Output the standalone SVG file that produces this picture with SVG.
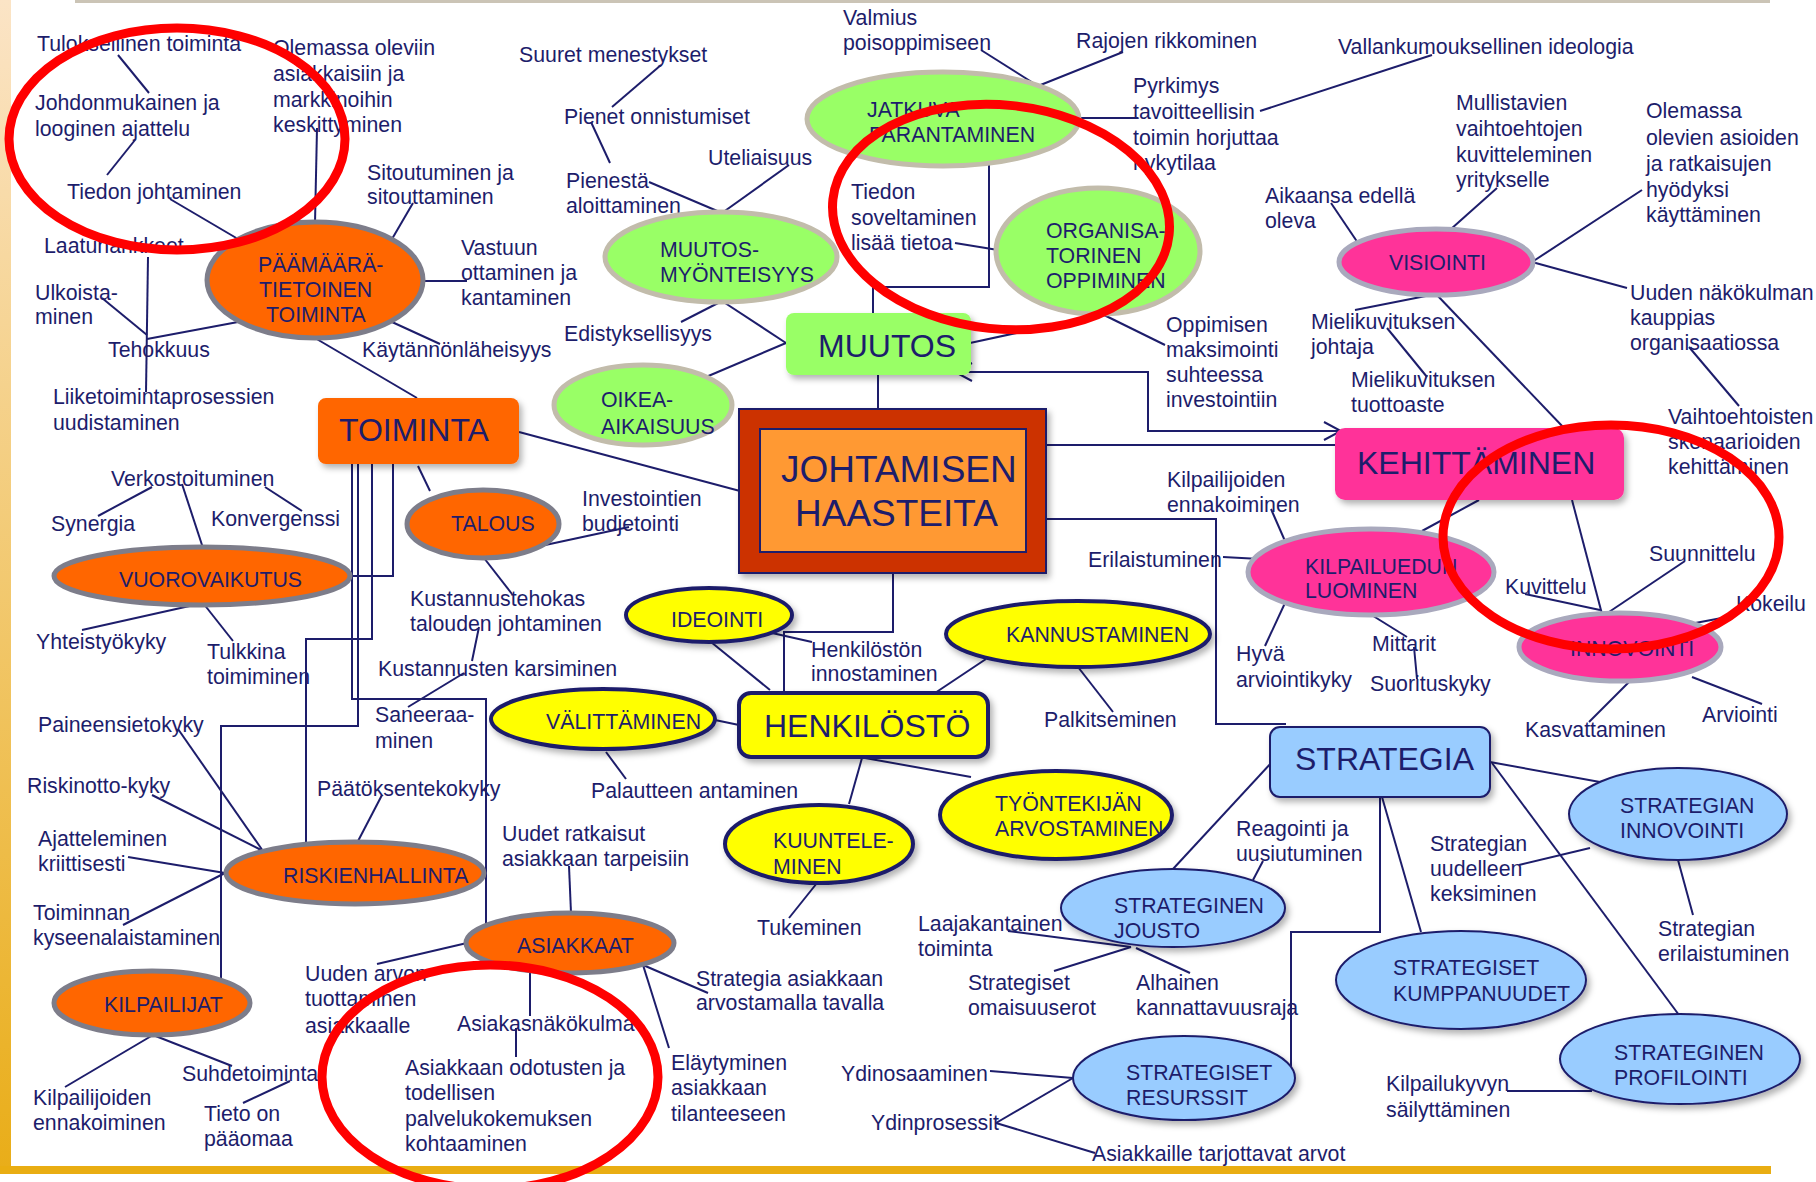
<svg xmlns="http://www.w3.org/2000/svg" width="1816" height="1182" viewBox="0 0 1816 1182">
<defs>
<linearGradient id="side" x1="0" y1="0" x2="0" y2="1"><stop offset="0" stop-color="#fbe4c6"/><stop offset="1" stop-color="#e9ad18"/></linearGradient>
<filter id="sh" x="-20%" y="-20%" width="140%" height="150%"><feDropShadow dx="3" dy="4" stdDeviation="3" flood-color="#000" flood-opacity="0.3"/></filter>
<marker id="chev" markerUnits="userSpaceOnUse" markerWidth="20" markerHeight="22" refX="18" refY="10" orient="auto-start-reverse"><path d="M1,1 L18,10 L1,19" fill="none" stroke="#1d1d6b" stroke-width="2"/></marker>
<style>
.t{font-family:"Liberation Sans",Arial,sans-serif;font-size:21.3px;fill:#1d1d6b}
.b{font-size:32px}
.h{font-size:37px}
.ln{stroke:#1d1d6b;stroke-width:2;fill:none}
.or{fill:#ff6600;stroke:#7d7d8a;stroke-width:5}
.gr{fill:#99ff66;stroke:#c2bcab;stroke-width:5}
.pk{fill:#ff3399;stroke:#a9a9bd;stroke-width:5}
.ye{fill:#ffff00;stroke:#1d1d6b;stroke-width:4}
.bl{fill:#99ccff;stroke:#1d1d6b;stroke-width:2}
.red{fill:none;stroke:#ff0000;stroke-width:9}
</style>
</defs>
<rect width="1816" height="1182" fill="#ffffff"/>
<rect x="0" y="0" width="11" height="1174" fill="url(#side)"/>
<rect x="0" y="1166" width="1771" height="8" fill="#e9ad12"/>
<line x1="75" y1="1.5" x2="1770" y2="1.5" stroke="#cbc4b6" stroke-width="3"/>

<g id="connectors" class="ln">
<path d="M118,55 L149,93"/>
<path d="M135,140 L107,175"/>
<path d="M170,199 L238,239"/>
<path d="M317,128 L315,223"/>
<path d="M413,203 L392,239"/>
<path d="M148,257 L146,392"/>
<path d="M102,298 L147,335"/>
<path d="M147,339 L238,322"/>
<path d="M423,281 L467,281"/>
<path d="M392,322 L440,344"/>
<path d="M315,338 L417,398"/>
<path d="M661,65 L612,107"/>
<path d="M591,122 L610,163"/>
<path d="M649,182 L722,213"/>
<path d="M789,165 L722,213"/>
<path d="M722,301 L681,322"/>
<path d="M722,301 L786,343"/>
<path d="M786,343 L706,377"/>
<path d="M878,375 L878,409"/>
<path d="M981,50 L1038,86"/>
<path d="M1123,52 L1038,86"/>
<path d="M1080,118 L1138,118"/>
<path d="M1260,111 L1432,55"/>
<path d="M946,165 V162 H989 V287 H873 V313"/>
<path d="M955,243 L998,250"/>
<path d="M1100,313 L1165,345"/>
<path d="M970,343 L1104,314"/>
<path d="M955,372 H1148 V431 H1341" marker-start="url(#chev)" marker-end="url(#chev)"/>
<path d="M1046,445 H1335"/>
<path d="M1497,188 L1451,229"/>
<path d="M1642,190 L1532,262"/>
<path d="M1532,262 L1627,288"/>
<path d="M1689,347 L1739,406"/>
<path d="M1331,203 L1358,243"/>
<path d="M1436,294 L1355,310"/>
<path d="M1387,328 L1427,377"/>
<path d="M1436,294 L1564,428"/>
<path d="M1479,500 L1422,531"/>
<path d="M1572,500 L1602,614"/>
<path d="M1525,594 L1600,610"/>
<path d="M1685,561 L1609,612"/>
<path d="M1690,624 L1727,617"/>
<path d="M1630,681 L1589,722"/>
<path d="M1692,677 L1762,704"/>
<path d="M1370,614 L1407,637"/>
<path d="M1414,647 L1417,679"/>
<path d="M1271,509 L1285,541"/>
<path d="M1223,557 L1260,559"/>
<path d="M1285,603 L1265,646"/>
<path d="M1046,519 H1216 V724 H1286"/>
<path d="M519,432 L740,491"/>
<path d="M418,466 L430,491"/>
<path d="M536,547 L629,527"/>
<path d="M484,558 L512,594"/>
<path d="M479,627 L472,661"/>
<path d="M464,673 L408,707"/>
<path d="M393,464 V576 H350"/>
<path d="M372,464 V639 H306 V844"/>
<path d="M358,464 V726 H221 V980"/>
<path d="M352,464 V699 H486 V926"/>
<path d="M152,487 L98,516"/>
<path d="M265,487 L302,511"/>
<path d="M182,484 L203,548"/>
<path d="M203,603 L82,630"/>
<path d="M203,603 L233,641"/>
<path d="M178,729 L263,851"/>
<path d="M152,795 L263,851"/>
<path d="M128,857 L225,873"/>
<path d="M123,925 L225,873"/>
<path d="M357,843 L382,795"/>
<path d="M153,1035 L65,1087"/>
<path d="M153,1035 L232,1066"/>
<path d="M290,1081 L243,1103"/>
<path d="M377,964 L467,943"/>
<path d="M569,866 L571,913"/>
<path d="M530,971 L530,1016"/>
<path d="M516,1028 L516,1057"/>
<path d="M643,965 L708,993"/>
<path d="M643,965 L669,1048"/>
<path d="M711,642 L770,690"/>
<path d="M772,633 L812,642"/>
<path d="M893,573 V632 H784 V693"/>
<path d="M715,720 L739,725"/>
<path d="M606,752 L626,779"/>
<path d="M986,659 L935,693"/>
<path d="M1078,667 L1113,712"/>
<path d="M865,758 L971,777"/>
<path d="M862,758 L849,804"/>
<path d="M817,883 L789,918"/>
<path d="M1272,762 L1173,869"/>
<path d="M1263,861 L1253,880"/>
<path d="M1008,931 L1131,947"/>
<path d="M1131,947 L1054,971"/>
<path d="M1136,948 L1190,973"/>
<path d="M1291,1066 V932 H1380 V797"/>
<path d="M990,1071 L1073,1078"/>
<path d="M1073,1078 L996,1123"/>
<path d="M996,1123 L1095,1153"/>
<path d="M1382,797 L1421,932"/>
<path d="M1492,763 L1679,1015"/>
<path d="M1490,762 L1600,782"/>
<path d="M1519,865 L1590,848"/>
<path d="M1678,860 L1693,915"/>
<path d="M1507,1091 L1592,1091"/>
</g>

<g id="labels" class="t">
<text x="37" y="51">Tuloksellinen toiminta</text>
<text x="35" y="110">Johdonmukainen ja</text>
<text x="35" y="136">looginen ajattelu</text>
<text x="67" y="199">Tiedon johtaminen</text>
<text x="273" y="55">Olemassa oleviin</text>
<text x="273" y="81">asiakkaisiin ja</text>
<text x="273" y="107">markkinoihin</text>
<text x="273" y="132">keskittyminen</text>
<text x="367" y="180">Sitoutuminen ja</text>
<text x="367" y="204">sitouttaminen</text>
<text x="44" y="253">Laatuhankkeet</text>
<text x="35" y="300">Ulkoista-</text>
<text x="35" y="324">minen</text>
<text x="108" y="357">Tehokkuus</text>
<text x="461" y="255">Vastuun</text>
<text x="461" y="280">ottaminen ja</text>
<text x="461" y="305">kantaminen</text>
<text x="362" y="357">Käytännönläheisyys</text>
<text x="53" y="404">Liiketoimintaprosessien</text>
<text x="53" y="430">uudistaminen</text>
<text x="519" y="62">Suuret menestykset</text>
<text x="564" y="124">Pienet onnistumiset</text>
<text x="708" y="165">Uteliaisuus</text>
<text x="566" y="188">Pienestä</text>
<text x="566" y="213">aloittaminen</text>
<text x="564" y="341">Edistyksellisyys</text>
<text x="843" y="25">Valmius</text>
<text x="843" y="50">poisoppimiseen</text>
<text x="1076" y="48">Rajojen rikkominen</text>
<text x="1338" y="54">Vallankumouksellinen ideologia</text>
<text x="1133" y="93">Pyrkimys</text>
<text x="1133" y="119">tavoitteellisin</text>
<text x="1133" y="145">toimin horjuttaa</text>
<text x="1133" y="170">nykytilaa</text>
<text x="851" y="199">Tiedon</text>
<text x="851" y="225">soveltaminen</text>
<text x="851" y="250">lisää tietoa</text>
<text x="1456" y="110">Mullistavien</text>
<text x="1456" y="136">vaihtoehtojen</text>
<text x="1456" y="162">kuvitteleminen</text>
<text x="1456" y="187">yritykselle</text>
<text x="1646" y="118">Olemassa</text>
<text x="1646" y="145">olevien asioiden</text>
<text x="1646" y="171">ja ratkaisujen</text>
<text x="1646" y="197">hyödyksi</text>
<text x="1646" y="222">käyttäminen</text>
<text x="1265" y="203">Aikaansa edellä</text>
<text x="1265" y="228">oleva</text>
<text x="1630" y="300">Uuden näkökulman</text>
<text x="1630" y="325">kauppias</text>
<text x="1630" y="350">organisaatiossa</text>
<text x="1166" y="332">Oppimisen</text>
<text x="1166" y="357">maksimointi</text>
<text x="1166" y="382">suhteessa</text>
<text x="1166" y="407">investointiin</text>
<text x="1311" y="329">Mielikuvituksen</text>
<text x="1311" y="354">johtaja</text>
<text x="1351" y="387">Mielikuvituksen</text>
<text x="1351" y="412">tuottoaste</text>
<text x="1668" y="424">Vaihtoehtoisten</text>
<text x="1668" y="449">skenaarioiden</text>
<text x="1668" y="474">kehittäminen</text>
<text x="1167" y="487">Kilpailijoiden</text>
<text x="1167" y="512">ennakoiminen</text>
<text x="1088" y="567">Erilaistuminen</text>
<text x="1236" y="661">Hyvä</text>
<text x="1236" y="687">arviointikyky</text>
<text x="1372" y="651">Mittarit</text>
<text x="1370" y="691">Suorituskyky</text>
<text x="1505" y="594">Kuvittelu</text>
<text x="1649" y="561">Suunnittelu</text>
<text x="1736" y="611">Kokeilu</text>
<text x="1525" y="737">Kasvattaminen</text>
<text x="1702" y="722">Arviointi</text>
<text x="582" y="506">Investointien</text>
<text x="582" y="531">budjetointi</text>
<text x="410" y="606">Kustannustehokas</text>
<text x="410" y="631">talouden johtaminen</text>
<text x="378" y="676">Kustannusten karsiminen</text>
<text x="375" y="722">Saneeraa-</text>
<text x="375" y="748">minen</text>
<text x="111" y="486">Verkostoituminen</text>
<text x="51" y="531">Synergia</text>
<text x="211" y="526">Konvergenssi</text>
<text x="36" y="649">Yhteistyökyky</text>
<text x="207" y="659">Tulkkina</text>
<text x="207" y="684">toimiminen</text>
<text x="38" y="732">Paineensietokyky</text>
<text x="27" y="793">Riskinotto-kyky</text>
<text x="317" y="796">Päätöksentekokyky</text>
<text x="38" y="846">Ajatteleminen</text>
<text x="38" y="871">kriittisesti</text>
<text x="33" y="920">Toiminnan</text>
<text x="33" y="945">kyseenalaistaminen</text>
<text x="33" y="1105">Kilpailijoiden</text>
<text x="33" y="1130">ennakoiminen</text>
<text x="182" y="1081">Suhdetoiminta</text>
<text x="204" y="1121">Tieto on</text>
<text x="204" y="1146">pääomaa</text>
<text x="305" y="981">Uuden arvon</text>
<text x="305" y="1006">tuottaminen</text>
<text x="305" y="1033">asiakkaalle</text>
<text x="502" y="841">Uudet ratkaisut</text>
<text x="502" y="866">asiakkaan tarpeisiin</text>
<text x="457" y="1031">Asiakasnäkökulma</text>
<text x="405" y="1075">Asiakkaan odotusten ja</text>
<text x="405" y="1100">todellisen</text>
<text x="405" y="1126">palvelukokemuksen</text>
<text x="405" y="1151">kohtaaminen</text>
<text x="696" y="986">Strategia asiakkaan</text>
<text x="696" y="1010">arvostamalla tavalla</text>
<text x="671" y="1070">Eläytyminen</text>
<text x="671" y="1095">asiakkaan</text>
<text x="671" y="1121">tilanteeseen</text>
<text x="811" y="657">Henkilöstön</text>
<text x="811" y="681">innostaminen</text>
<text x="1044" y="727">Palkitseminen</text>
<text x="591" y="798">Palautteen antaminen</text>
<text x="757" y="935">Tukeminen</text>
<text x="1236" y="836">Reagointi ja</text>
<text x="1236" y="861">uusiutuminen</text>
<text x="918" y="931">Laajakantainen</text>
<text x="918" y="956">toiminta</text>
<text x="968" y="990">Strategiset</text>
<text x="968" y="1015">omaisuuserot</text>
<text x="1136" y="990">Alhainen</text>
<text x="1136" y="1015">kannattavuusraja</text>
<text x="841" y="1081">Ydinosaaminen</text>
<text x="871" y="1130">Ydinprosessit</text>
<text x="1092" y="1161">Asiakkaille tarjottavat arvot</text>
<text x="1430" y="851">Strategian</text>
<text x="1430" y="876">uudelleen</text>
<text x="1430" y="901">keksiminen</text>
<text x="1658" y="936">Strategian</text>
<text x="1658" y="961">erilaistuminen</text>
<text x="1386" y="1091">Kilpailukyvyn</text>
<text x="1386" y="1117">säilyttäminen</text>
</g>

<g id="paamaara"><ellipse class="or" cx="315" cy="280" rx="108" ry="58"/><text class="t" x="258" y="272">PÄÄMÄÄRÄ-</text><text class="t" x="259" y="297">TIETOINEN</text><text class="t" x="266" y="322">TOIMINTA</text></g>
<g id="muutosmyonteisyys"><ellipse class="gr" cx="721" cy="257" rx="116" ry="45"/><text class="t" x="660" y="257">MUUTOS-</text><text class="t" x="660" y="282">MYÖNTEISYYS</text></g>
<g id="jatkuva"><ellipse class="gr" cx="943" cy="119" rx="136" ry="47"/><text class="t" x="867" y="117">JATKUVA</text><text class="t" x="869" y="142">PARANTAMINEN</text></g>
<g id="organisatorinen"><ellipse class="gr" cx="1098" cy="251" rx="102" ry="63"/><text class="t" x="1046" y="238">ORGANISA-</text><text class="t" x="1046" y="263">TORINEN</text><text class="t" x="1046" y="288">OPPIMINEN</text></g>
<g id="oikea"><ellipse class="gr" cx="643" cy="405" rx="89" ry="40"/><text class="t" x="601" y="407">OIKEA-</text><text class="t" x="601" y="434">AIKAISUUS</text></g>
<g id="muutos"><rect x="786" y="313" width="185" height="62" rx="8" fill="#99ff66" filter="url(#sh)"/><text class="t b" x="818" y="357">MUUTOS</text></g>
<g id="johtamisen"><rect x="739" y="409" width="307" height="164" fill="#cc3300" stroke="#1d1d6b" stroke-width="2" filter="url(#sh)"/><rect x="760" y="429" width="266" height="123" fill="#ff9933" stroke="#1d1d6b" stroke-width="2"/><text class="t h" x="781" y="482">JOHTAMISEN</text><text class="t h" x="795" y="526">HAASTEITA</text></g>
<g id="toiminta"><rect x="318" y="398" width="201" height="66" rx="8" fill="#ff6600" filter="url(#sh)"/><text class="t b" x="339" y="441">TOIMINTA</text></g>
<g id="talous"><ellipse class="or" cx="483" cy="524" rx="76" ry="34"/><text class="t" x="451" y="531">TALOUS</text></g>
<g id="vuorovaikutus"><ellipse class="or" cx="202" cy="576" rx="148" ry="29"/><text class="t" x="119" y="587">VUOROVAIKUTUS</text></g>
<g id="riskienhallinta"><ellipse class="or" cx="355" cy="873" rx="129" ry="31"/><text class="t" x="283" y="883">RISKIENHALLINTA</text></g>
<g id="kilpailijat"><ellipse class="or" cx="152" cy="1003" rx="98" ry="32"/><text class="t" x="104" y="1012">KILPAILIJAT</text></g>
<g id="asiakkaat"><ellipse class="or" cx="570" cy="943" rx="104" ry="30"/><text class="t" x="517" y="953">ASIAKKAAT</text></g>
<g id="ideointi"><ellipse class="ye" cx="709" cy="615" rx="83" ry="27" filter="url(#sh)"/><text class="t" x="671" y="627">IDEOINTI</text></g>
<g id="valittaminen"><ellipse class="ye" cx="603" cy="719" rx="112" ry="30" filter="url(#sh)"/><text class="t" x="546" y="729">VÄLITTÄMINEN</text></g>
<g id="henkilosto"><rect class="ye" x="739" y="693" width="249" height="64" rx="12" filter="url(#sh)"/><text class="t b" x="764" y="737">HENKILÖSTÖ</text></g>
<g id="kannustaminen"><ellipse class="ye" cx="1078" cy="634" rx="132" ry="33" filter="url(#sh)"/><text class="t" x="1006" y="642">KANNUSTAMINEN</text></g>
<g id="tyontekijan"><ellipse class="ye" cx="1056" cy="815" rx="116" ry="44" filter="url(#sh)"/><text class="t" x="995" y="811">TYÖNTEKIJÄN</text><text class="t" x="995" y="836">ARVOSTAMINEN</text></g>
<g id="kuuntele"><ellipse class="ye" cx="819" cy="844" rx="94" ry="39" filter="url(#sh)"/><text class="t" x="773" y="848">KUUNTELE-</text><text class="t" x="773" y="874">MINEN</text></g>
<g id="visiointi"><ellipse class="pk" cx="1436" cy="262" rx="97" ry="33"/><text class="t" x="1389" y="270">VISIOINTI</text></g>
<g id="kehittaminen"><rect x="1335" y="428" width="289" height="72" rx="10" fill="#ff3399" filter="url(#sh)"/><text class="t b" x="1357" y="474">KEHITTÄMINEN</text></g>
<g id="kilpailuedun"><ellipse class="pk" cx="1371" cy="572" rx="123" ry="43"/><text class="t" x="1305" y="574">KILPAILUEDUN</text><text class="t" x="1305" y="598">LUOMINEN</text></g>
<g id="innovointi"><ellipse class="pk" cx="1620" cy="647" rx="101" ry="34"/><text class="t" x="1570" y="656">INNOVOINTI</text></g>
<g id="strategia"><rect class="bl" x="1270" y="727" width="220" height="70" rx="10" filter="url(#sh)"/><text class="t b" x="1295" y="770">STRATEGIA</text></g>
<g id="jousto"><ellipse class="bl" cx="1173" cy="908" rx="112" ry="39" filter="url(#sh)"/><text class="t" x="1114" y="913">STRATEGINEN</text><text class="t" x="1114" y="938">JOUSTO</text></g>
<g id="resurssit"><ellipse class="bl" cx="1184" cy="1078" rx="111" ry="42" filter="url(#sh)"/><text class="t" x="1126" y="1080">STRATEGISET</text><text class="t" x="1126" y="1105">RESURSSIT</text></g>
<g id="kumppanuudet"><ellipse class="bl" cx="1461" cy="980" rx="125" ry="49" filter="url(#sh)"/><text class="t" x="1393" y="975">STRATEGISET</text><text class="t" x="1393" y="1001">KUMPPANUUDET</text></g>
<g id="strategian-innovointi"><ellipse class="bl" cx="1678" cy="814" rx="109" ry="46" filter="url(#sh)"/><text class="t" x="1620" y="813">STRATEGIAN</text><text class="t" x="1620" y="838">INNOVOINTI</text></g>
<g id="profilointi"><ellipse class="bl" cx="1680" cy="1059" rx="120" ry="45" filter="url(#sh)"/><text class="t" x="1614" y="1060">STRATEGINEN</text><text class="t" x="1614" y="1085">PROFILOINTI</text></g>

<g id="highlights">
<ellipse class="red" cx="177" cy="139" rx="168" ry="111"/>
<ellipse class="red" cx="1001" cy="217" rx="169" ry="112" transform="rotate(6 1001 217)"/>
<ellipse class="red" cx="1611" cy="537" rx="168" ry="112"/>
<ellipse class="red" cx="490" cy="1077" rx="168" ry="112"/>
</g>
</svg>
